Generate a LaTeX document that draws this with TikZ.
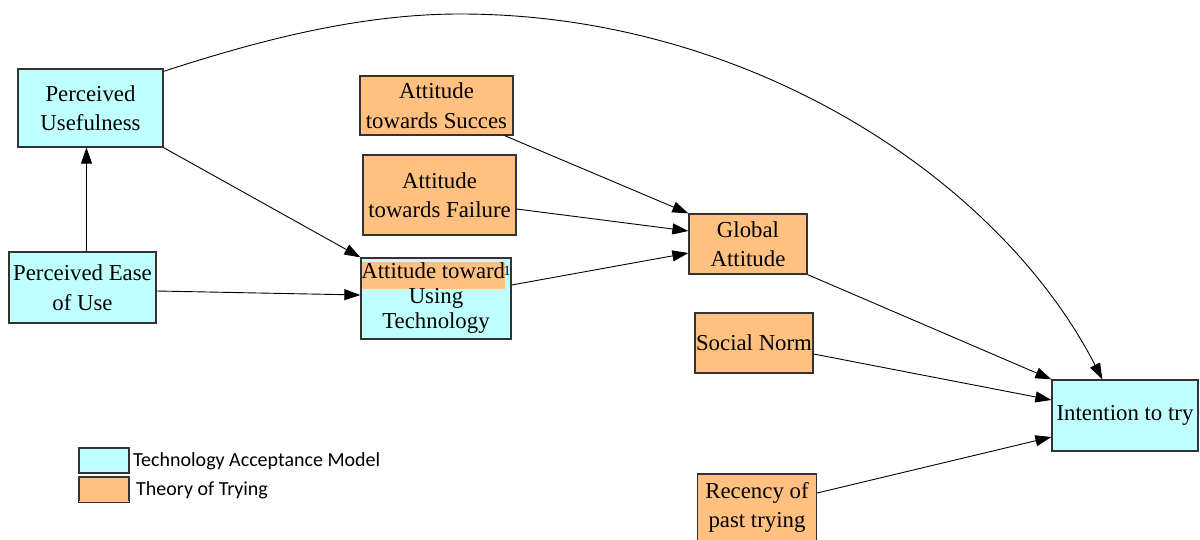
\documentclass[tikz,border=0pt]{standalone}
\usepackage{fontspec}
\setmainfont{Liberation Serif}
\newfontfamily\legfont{Carlito}
\usetikzlibrary{arrows.meta}
\definecolor{tamfill}{RGB}{192,255,255}
\definecolor{totfill}{RGB}{255,192,128}
\definecolor{boxline}{RGB}{51,51,51}
\definecolor{legline}{RGB}{255,215,40}
\tikzset{
  box/.style={draw=boxline, line width=1.3pt, inner sep=0pt, align=center,
    font=\fontsize{22.8}{29.5}\selectfont},
  tam/.style={box, fill=tamfill},
  tot/.style={box, fill=totfill},
  link/.style={draw=black, line width=0.9pt, -{Triangle[length=16pt,width=11pt]}},
  legbox/.style={draw=boxline, line width=1.3pt, minimum width=50pt, minimum height=25pt, inner sep=0pt},
  legtext/.style={anchor=west, inner sep=0pt, font=\legfont\fontsize{20}{22}\selectfont}
}
\begin{document}
\begin{tikzpicture}[x=1pt,y=-1pt]
\useasboundingbox (0,0) rectangle (1200,540);
\clip (0,0) rectangle (1200,540);

% Technology Acceptance Model constructs
\node[tam, minimum width=145pt, minimum height=78pt] (pu) at (90.5,108) {Perceived\\Usefulness};
\node[tam, minimum width=147pt, minimum height=71pt] (peu) at (82.5,287.5) {Perceived Ease\\of Use};
\node[tam, minimum width=150pt, minimum height=81pt, font=\fontsize{22.8}{25}\selectfont,
  path picture={\fill[totfill] ([yshift=-4pt]path picture bounding box.north west)
    rectangle ([xshift=-6pt,yshift=-31pt]path picture bounding box.north east);}]
  (att) at (436,298.5) {Attitude toward\kern5.5pt\\Using\\Technology};
\node[inner sep=0pt, font=\fontsize{14}{14}\selectfont] (attmark) at (507,271) {1};
\node[tam, minimum width=146pt, minimum height=71pt] (it) at (1125,415.5) {Intention to try};

% Theory of Trying constructs
\node[tot, minimum width=153pt, minimum height=59pt] (ats) at (436.5,105.5) {Attitude\\towards Succes};
\node[tot, minimum width=153pt, minimum height=80pt] (atf) at (439.5,195) {Attitude\\towards Failure};
\node[tot, minimum width=118pt, minimum height=60pt] (ga) at (748,244) {Global\\Attitude};
\node[tot, minimum width=118pt, minimum height=60pt] (sn) at (754,343) {Social Norm};
\node[tot, minimum width=119pt, minimum height=67pt] (rec) at (757,507.5) {Recency of\\past trying};

% Paths
\draw[link] ([xshift=4pt]peu.north) -- ([xshift=-4pt]pu.south);
\draw[link] (pu.south east) -- (att.north west);
\draw[link] ([yshift=-3.5pt]peu.east) -- ([yshift=3.5pt]att.west);
\draw[link] ([xshift=-9pt]ats.south east) -- (ga.north west);
\draw[link] ([yshift=-14pt]atf.east) -- ([yshift=13pt]ga.west);
\draw[link] ([yshift=13.5pt]att.east) -- ([yshift=-9pt]ga.west);
\draw[link] (ga.south east) -- (it.north west);
\draw[link] ([yshift=-11pt]sn.east) -- ([yshift=15.5pt]it.west);
\draw[link] ([yshift=14.5pt]rec.east) -- ([yshift=-21.5pt]it.west);
\coordinate (apex) at (460,14);
\draw[link] ([yshift=-3pt]pu.north east) .. controls (260,40) and (360,14) .. (apex)
  .. controls (750,14) and (1000,180) .. ([xshift=51pt]it.north west);

% Legend
\node[legbox, fill=tamfill] (legtam) at (104,460.5) {};
\node[legbox, fill=totfill] (legtot) at (104,489.5) {};
\draw[legline, line width=1pt] ([xshift=1pt,yshift=1.2pt]legtot.south west) -- ([xshift=-1pt,yshift=1.2pt]legtot.south east);
\node[legtext] (legtamtext) at (133,461) {Technology Acceptance Model};
\node[legtext] (legtottext) at (136,490) {Theory of Trying};
\end{tikzpicture}
\end{document}
